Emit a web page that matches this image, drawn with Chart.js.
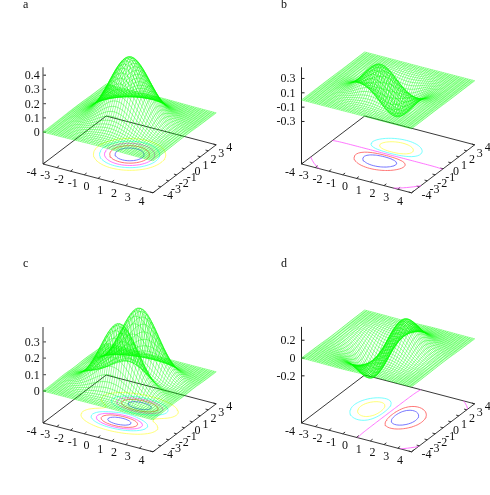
<!DOCTYPE html>
<html>
<head>
<meta charset="utf-8">
<script src="https://cdn.jsdelivr.net/npm/chart.js@4"></script>
<style>
  html, body { margin: 0; background: #fff; }
  #wrap { position: relative; width: 490px; height: 495px; overflow: hidden; }
  canvas { position: absolute; }
</style>
</head>
<body>
<div id="wrap"></div>
<script>
// Grid positions, -4 to 4
const gridValues = [-4,-3.84,-3.68,-3.52,-3.36,-3.2,-3.04,-2.88,-2.72,-2.56,-2.4,-2.24,-2.08,-1.92,-1.76,-1.6,-1.44,-1.28,-1.12,-0.96,-0.8,-0.64,-0.48,-0.32,-0.16,0,0.16,0.32,0.48,0.64,0.8,0.96,1.12,1.28,1.44,1.6,1.76,1.92,2.08,2.24,2.4,2.56,2.72,2.88,3.04,3.2,3.36,3.52,3.68,3.84,4];

// Cross sections of the surfaces, scaled to a peak of 1
const wideBell = [0.009,0.0131,0.0186,0.0261,0.0361,0.0492,0.066,0.0872,0.1135,0.1455,0.1838,0.2286,0.2801,0.3382,0.4021,0.471,0.5434,0.6176,0.6915,0.7626,0.8285,0.8865,0.9345,0.9703,0.9925,1,0.9925,0.9703,0.9345,0.8865,0.8285,0.7626,0.6915,0.6176,0.5434,0.471,0.4021,0.3382,0.2801,0.2286,0.1838,0.1455,0.1135,0.0872,0.066,0.0492,0.0361,0.0261,0.0186,0.0131,0.009];
const narrowBell = [0.0021,0.0034,0.0055,0.0085,0.013,0.0195,0.0286,0.0411,0.0581,0.0804,0.1091,0.1452,0.1894,0.2423,0.3038,0.3736,0.4505,0.5325,0.6172,0.7015,0.7818,0.8543,0.9152,0.9614,0.9902,1,0.9902,0.9614,0.9152,0.8543,0.7818,0.7015,0.6172,0.5325,0.4505,0.3736,0.3038,0.2423,0.1894,0.1452,0.1091,0.0804,0.0581,0.0411,0.0286,0.0195,0.013,0.0085,0.0055,0.0034,0.0021];
const riseSection = [-0.0044,-0.0072,-0.0121,-0.02,-0.0311,-0.0478,-0.0717,-0.104,-0.148,-0.205,-0.275,-0.36,-0.458,-0.565,-0.677,-0.786,-0.882,-0.956,-0.996,-0.993,-0.94,-0.835,-0.68,-0.48,-0.249,0,0.249,0.48,0.68,0.835,0.94,0.993,0.996,0.956,0.882,0.786,0.677,0.565,0.458,0.36,0.275,0.205,0.148,0.104,0.0717,0.0478,0.0311,0.02,0.0121,0.0072,0.0044];
const wideRise = [-0.0184,-0.0279,-0.0407,-0.059,-0.0831,-0.1154,-0.1568,-0.2081,-0.2707,-0.3445,-0.4286,-0.5215,-0.62,-0.7191,-0.8136,-0.8962,-0.9595,-0.9964,-1,-0.9653,-0.8896,-0.7726,-0.6178,-0.4311,-0.2215,0,0.2215,0.4311,0.6178,0.7726,0.8896,0.9653,1,0.9964,0.9595,0.8962,0.8136,0.7191,0.62,0.5215,0.4286,0.3445,0.2707,0.2081,0.1568,0.1154,0.0831,0.059,0.0407,0.0279,0.0184];
const twinSection = [0.001,0.0022,0.0046,0.0092,0.018,0.032,0.056,0.093,0.147,0.22,0.316,0.431,0.56,0.693,0.818,0.918,0.981,0.999,0.973,0.904,0.803,0.66,0.52,0.4,0.325,0.3,0.325,0.4,0.52,0.66,0.803,0.904,0.973,0.999,0.981,0.918,0.818,0.693,0.56,0.431,0.316,0.22,0.147,0.093,0.056,0.032,0.018,0.0092,0.0046,0.0022,0.001];

// Peak heights
const peakA = 0.46, peakB = -0.45, peakC = 0.4, peakD = 0.37;

// Contour levels, low to high
const levelsA = [0.1, 0.16, 0.22, 0.29, 0.36];
const levelsB = [-0.27, -0.14, 0.00012, 0.14, 0.27];
const levelsC = [0.05, 0.13, 0.19, 0.25, 0.33];
const levelsD = [-0.25, -0.15, 0.0004, 0.15, 0.25];
const levelColors = ['#ffff55', '#55ffff', '#ff55ff', '#ff5555', '#5555ff'];

// Axis ticks
const groundTicks = [-4,-3,-2,-1,0,1,2,3,4];
const zTicksA = [0, 0.1, 0.2, 0.3, 0.4];
const zTicksB = [-0.3, -0.1, 0.1, 0.3];
const zTicksC = [0, 0.1, 0.2, 0.3];
const zTicksD = [-0.2, 0, 0.2];

const panels = [
  { name: 'a', left: 0, top: 0, ox: 43, oy: 164, zUnit: 142, zBase: -0.225, zTop: 0.457, zTicks: zTicksA, zGap: 3.3, nameX: 23, nameY: 8, levels: levelsA, peak: peakA, sx: wideBell, sy: wideBell, axisColor: '#666', axisWidth: 1.3 },
  { name: 'b', left: 245, top: 0, ox: 56.5, oy: 164, zUnit: 71.7, zBase: -0.893, zTop: 0.456, zTicks: zTicksB, zGap: 6, nameX: 36, nameY: 8, levels: levelsB, peak: peakB, sx: narrowBell, sy: riseSection, axisColor: '#222', axisWidth: 1 },
  { name: 'c', left: 0, top: 248, ox: 43, oy: 175, zUnit: 164, zBase: -0.195, zTop: 0.39, zTicks: zTicksC, zGap: 3.3, nameX: 23, nameY: 19, levels: levelsC, peak: peakC, sx: wideBell, sy: twinSection, axisColor: '#666', axisWidth: 1.3 },
  { name: 'd', left: 245, top: 248, ox: 56.5, oy: 175, zUnit: 89, zBase: -0.73, zTop: 0.35, zTicks: zTicksD, zGap: 6, nameX: 36, nameY: 19, levels: levelsD, peak: peakD, sx: wideRise, sy: wideBell, axisColor: '#222', axisWidth: 1 }
];

const GAP = { x: NaN, y: NaN };
const FONT = '12px "Liberation Serif"';

function drawPanel(p) {
  // view of the 3d box on the page
  const project = (x, y, z) => ({
    x: p.ox + (x + 4) * 13.75 + (y + 4) * 7.9,
    y: p.oy + (x + 4) * 3.6 - (y + 4) * 6 - (z - p.zBase) * p.zUnit
  });
  const height = (i, j) => p.peak * p.sx[i] * p.sy[j];

  // Mesh
  const mesh = [];
  gridValues.forEach((x, i) => {
    gridValues.forEach((y, j) => mesh.push(project(x, y, height(i, j))));
    mesh.push(GAP);
  });
  gridValues.forEach((y, j) => {
    gridValues.forEach((x, i) => mesh.push(project(x, y, height(i, j))));
    mesh.push(GAP);
  });

  // Contours on the floor
  const floorPoint = (x, y) => project(x, y, p.zBase);
  const contourSets = p.levels.map((level, n) => ({
    data: contourSegments(level, height, floorPoint),
    borderColor: levelColors[n],
    borderWidth: 0.8,
    order: 2
  }));

  // Box, ticks, z axis
  const box = [floorPoint(-4,-4), floorPoint(4,-4), floorPoint(4,4), floorPoint(-4,4), floorPoint(-4,-4), GAP];
  groundTicks.forEach(t => {
    box.push(floorPoint(t,-4), floorPoint(t,-3.7), GAP);
    box.push(floorPoint(4,t), floorPoint(3.8,t), GAP);
  });
  const axis = [floorPoint(-4,-4), project(-4,-4,p.zTop), GAP];
  p.zTicks.forEach(t => {
    const a = project(-4,-4,t);
    axis.push(a, { x: a.x + 3, y: a.y }, GAP);
  });

  const labels = {
    id: 'labels',
    afterDraw(chart) {
      const ctx = chart.ctx;
      const sx = chart.scales.x, sy = chart.scales.y;
      const put = (text, x, y, align) => {
        ctx.textAlign = align;
        ctx.fillText(text, sx.getPixelForValue(x), sy.getPixelForValue(y));
      };
      ctx.save();
      ctx.font = FONT;
      ctx.fillStyle = '#111';
      ctx.textBaseline = 'alphabetic';
      put(p.name, p.nameX, p.nameY, 'left');
      groundTicks.forEach(t => {
        const a = floorPoint(t, -4);
        put(String(t), a.x - 11.5, a.y + 11.8, 'center');
        const b = floorPoint(4, t);
        put(String(t), b.x + 10, b.y + 6, 'left');
      });
      p.zTicks.forEach(t => {
        const a = project(-4, -4, t);
        put(String(t), a.x - p.zGap, a.y + 4, 'right');
      });
      ctx.restore();
    }
  };

  const canvas = document.createElement('canvas');
  canvas.width = 245;
  canvas.height = 248;
  canvas.style.left = p.left + 'px';
  canvas.style.top = p.top + 'px';
  document.getElementById('wrap').appendChild(canvas);

  new Chart(canvas.getContext('2d'), {
    type: 'scatter',
    data: {
      datasets: [
        { data: mesh, borderColor: '#00ff00', borderWidth: 0.4, order: 1 },
        ...contourSets,
        { data: box, borderColor: '#222', borderWidth: 0.9, order: 3 },
        { data: axis, borderColor: p.axisColor, borderWidth: p.axisWidth, order: 3 }
      ]
    },
    options: {
      responsive: false,
      animation: false,
      showLine: true,
      clip: false,
      elements: { point: { radius: 0 }, line: { tension: 0 } },
      layout: { padding: 0 },
      plugins: { legend: { display: false }, tooltip: { enabled: false } },
      scales: {
        x: { type: 'linear', display: false, min: 0, max: 245 },
        y: { type: 'linear', display: false, min: 0, max: 248, reverse: true }
      }
    },
    plugins: [labels]
  });
}

// Marching squares over the surface table
function contourSegments(level, height, floorPoint) {
  const out = [];
  const n = gridValues.length;
  const cross = (x0, y0, v0, x1, y1, v1) => {
    const t = (level - v0) / (v1 - v0);
    return floorPoint(x0 + (x1 - x0) * t, y0 + (y1 - y0) * t);
  };
  for (let i = 0; i < n - 1; i++) {
    for (let j = 0; j < n - 1; j++) {
      const x0 = gridValues[i], x1 = gridValues[i + 1], y0 = gridValues[j], y1 = gridValues[j + 1];
      const a = height(i, j), b = height(i + 1, j), c = height(i + 1, j + 1), d = height(i, j + 1);
      const hits = [];
      if ((a < level) !== (b < level)) hits.push(cross(x0, y0, a, x1, y0, b));
      if ((b < level) !== (c < level)) hits.push(cross(x1, y0, b, x1, y1, c));
      if ((c < level) !== (d < level)) hits.push(cross(x1, y1, c, x0, y1, d));
      if ((d < level) !== (a < level)) hits.push(cross(x0, y1, d, x0, y0, a));
      for (let k = 0; k + 1 < hits.length; k += 2) out.push(hits[k], hits[k + 1], GAP);
    }
  }
  return out;
}

panels.forEach(drawPanel);
</script>
</body>
</html>
